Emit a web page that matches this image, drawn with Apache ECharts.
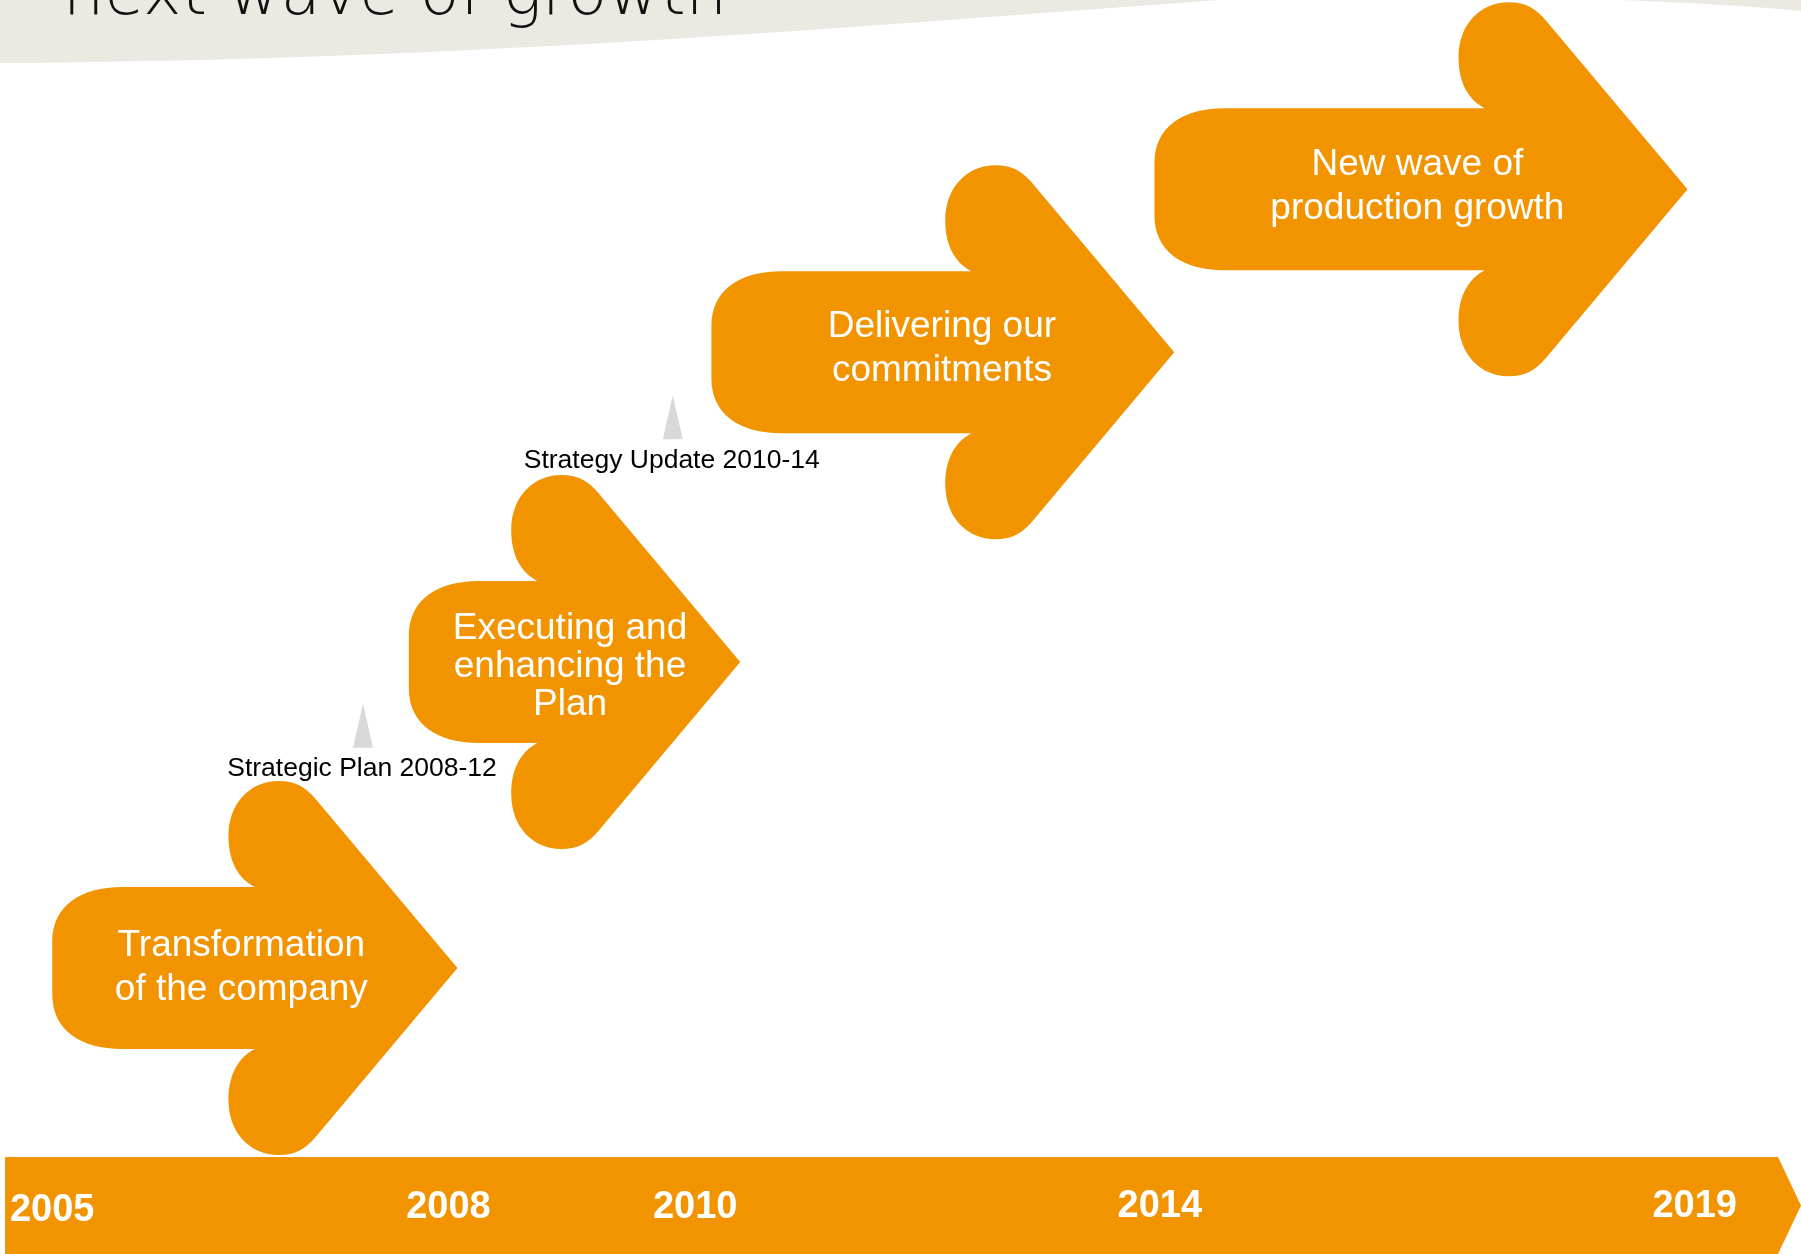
<!DOCTYPE html>
<html>
<head>
<meta charset="utf-8">
<script src="https://cdn.jsdelivr.net/npm/echarts@6/dist/echarts.min.js"></script>
<style>
  html, body { margin: 0; padding: 0; background: #ffffff; }
  #chart { width: 1801px; height: 1254px; }
</style>
</head>
<body>
<div id="chart"></div>
<script>
// ---- data (axis units: x = % of timeline width, y = progress level 0..100) ----
const stageLabels = ['Transformation\nof the company', 'Executing and\nenhancing the\nPlan', 'Delivering our\ncommitments', 'New wave of\nproduction growth'];
const stageStart = [2.9, 22.7, 39.5, 64.1];
const stageEnd = [25.4, 41.1, 65.2, 93.7];
const stageLevel = [22.8, 47.2, 71.9, 84.9];
const stageLabelX = [13.4, 31.65, 52.3, 78.7];
const stageLabelLevel = [22.8, 46.8, 72.2, 85.1];

const years = ['2005', '2008', '2010', '2014', '2019'];
const yearPos = [2.9, 24.9, 38.6, 64.4, 94.1];
const yearLevel = [3.5, 3.7, 3.7, 3.75, 3.75];

const milestoneLabels = ['Strategic Plan 2008-12', 'Strategy Update 2010-14'];
const milestonePos = [20.1, 37.3];
const milestoneLevel = [38.7, 63.3];

const timelineSpan = [0.28, 100];
const timelineBand = [0, 7.74];

const titleText = 'next wave of growth';

// ---- styles ----
const ORANGE = '#F29400';
const BEIGE = '#ECE9E3';
const GREY = '#D9D9D9';

function arrowPath(tx, px, c) {
  const W = 229, H = 187, h = 81, L = px - W;
  return [
    `M${tx},${c}`,
    `L${tx},${c - 26}`,
    `C${tx},${c - 62} ${tx + 28},${c - h} ${tx + 70},${c - h}`,
    `L${L + 26},${c - h}`,
    `C${L + 6},${c - h - 11} ${L},${c - 112} ${L},${c - 132}`,
    `C${L},${c - 165} ${L + 22},${c - H} ${L + 50},${c - H}`,
    `C${L + 68},${c - H} ${L + 78},${c - 180} ${L + 88},${c - 168}`,
    `L${px},${c}`,
    `L${L + 88},${c + 168}`,
    `C${L + 78},${c + 180} ${L + 68},${c + H} ${L + 50},${c + H}`,
    `C${L + 22},${c + H} ${L},${c + 165} ${L},${c + 132}`,
    `C${L},${c + 112} ${L + 6},${c + h + 11} ${L + 26},${c + h}`,
    `L${tx + 70},${c + h}`,
    `C${tx + 28},${c + h} ${tx},${c + 62} ${tx},${c + 26}`,
    'Z'
  ].join(' ');
}

const chart = echarts.init(document.getElementById('chart'), null, { renderer: 'canvas' });

const option = {
  backgroundColor: '#ffffff',
  animation: false,
  grid: { left: 0, right: 0, top: 0, bottom: 0 },
  xAxis: { type: 'value', min: 0, max: 100, show: false },
  yAxis: { type: 'value', min: 0, max: 100, show: false },
  series: [
    {
      type: 'custom',
      name: 'header',
      silent: true,
      z: 0,
      clip: false,
      data: [[0, 100]],
      renderItem: function (params, api) {
        const o = api.coord([api.value(0), api.value(1)]);
        const x0 = o[0], y0 = o[1];
        return {
          type: 'group',
          children: [
            {
              type: 'path',
              shape: { pathData: `M${x0},${y0} L${x0},${y0 + 63} C${x0 + 500},${y0 + 60} ${x0 + 900},${y0 + 22} ${x0 + 1250},${y0 - 2} L${x0 + 1250},${y0} Z` },
              style: { fill: BEIGE }
            },
            {
              type: 'path',
              shape: { pathData: `M${x0 + 1620},${y0} C${x0 + 1700},${y0 + 3} ${x0 + 1760},${y0 + 7} ${x0 + 1801},${y0 + 11} L${x0 + 1801},${y0} Z` },
              style: { fill: BEIGE }
            },
            {
              type: 'text',
              style: {
                text: titleText,
                x: x0 + 63,
                y: y0 + 30,
                fill: '#111111',
                font: '200 65px "DejaVu Sans"',
                align: 'left',
                verticalAlign: 'bottom'
              }
            }
          ]
        };
      }
    },
    {
      type: 'custom',
      name: 'timeline',
      silent: true,
      data: [[timelineSpan[0], timelineSpan[1], timelineBand[0], timelineBand[1]]],
      renderItem: function (params, api) {
        const p0 = api.coord([api.value(0), api.value(3)]);
        const p1 = api.coord([api.value(1), api.value(2)]);
        const tip = 23;
        const midY = (p0[1] + p1[1]) / 2;
        return {
          type: 'polygon',
          shape: {
            points: [
              [p0[0], p0[1]],
              [p1[0] - tip, p0[1]],
              [p1[0], midY],
              [p1[0] - tip, p1[1]],
              [p0[0], p1[1]]
            ]
          },
          style: { fill: ORANGE }
        };
      }
    },
    {
      type: 'custom',
      name: 'years',
      silent: true,
      z: 3,
      data: years.map((y, i) => [yearPos[i], yearLevel[i]]),
      renderItem: function (params, api) {
        const p = api.coord([api.value(0), api.value(1)]);
        return {
          type: 'text',
          style: {
            text: years[params.dataIndex],
            x: p[0],
            y: p[1],
            fill: '#ffffff',
            font: 'bold 38px "Liberation Sans", Arial, sans-serif',
            align: 'center',
            verticalAlign: 'middle'
          }
        };
      }
    },
    {
      type: 'custom',
      name: 'stages',
      silent: true,
      z: 2,
      data: stageLabels.map((s, i) => [stageStart[i], stageEnd[i], stageLevel[i], stageLabelX[i], stageLabelLevel[i]]),
      renderItem: function (params, api) {
        const a = api.coord([api.value(0), api.value(2)]);
        const b = api.coord([api.value(1), api.value(2)]);
        const t = api.coord([api.value(3), api.value(4)]);
        const label = stageLabels[params.dataIndex];
        const lines = label.split('\n').length;
        return {
          type: 'group',
          children: [
            {
              type: 'path',
              shape: { pathData: arrowPath(a[0], b[0], a[1]) },
              style: { fill: ORANGE }
            },
            {
              type: 'text',
              style: {
                text: label,
                x: t[0],
                y: t[1],
                fill: '#ffffff',
                font: '37px "Liberation Sans", Arial, sans-serif',
                lineHeight: lines === 3 ? 38 : 44,
                align: 'center',
                verticalAlign: 'middle'
              }
            }
          ]
        };
      }
    },
    {
      type: 'custom',
      name: 'milestones',
      silent: true,
      z: 2,
      data: milestoneLabels.map((m, i) => [milestonePos[i], milestoneLevel[i]]),
      renderItem: function (params, api) {
        const p = api.coord([api.value(0), api.value(1)]);
        return {
          type: 'group',
          children: [
            {
              type: 'polygon',
              shape: {
                points: [
                  [p[0] + 1, p[1] - 65],
                  [p[0] + 11, p[1] - 21],
                  [p[0] - 9, p[1] - 21]
                ]
              },
              style: { fill: GREY }
            },
            {
              type: 'text',
              style: {
                text: milestoneLabels[params.dataIndex],
                x: p[0],
                y: p[1],
                fill: '#000000',
                font: '26.5px "Liberation Sans", Arial, sans-serif',
                align: 'center',
                verticalAlign: 'middle'
              }
            }
          ]
        };
      }
    }
  ]
};

chart.setOption(option);
</script>
</body>
</html>
